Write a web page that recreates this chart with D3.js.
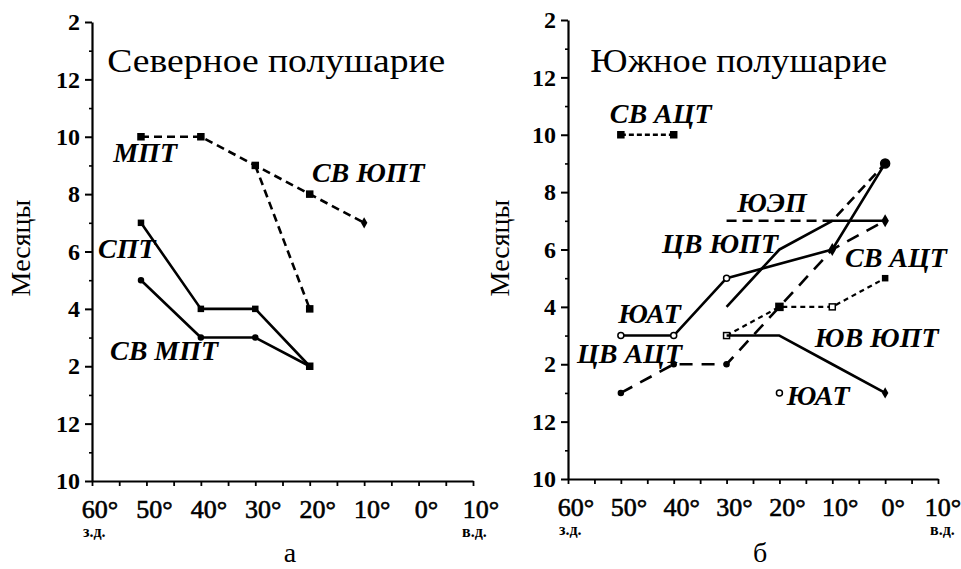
<!DOCTYPE html>
<html><head><meta charset="utf-8">
<script src="https://cdn.jsdelivr.net/npm/d3@7"></script>
</head><body style="margin:0;background:#fff">
<svg id="c" width="961" height="569"></svg>
<script>
// ---- tick data ----
const monthTicks = [10,12,14,16,18,20,22,24,26];
const monthLabels = ["10","12","2","4","6","8","10","12","2"];
const lonTicks = [-60,-50,-40,-30,-20,-10,0,10];
const lonLabels = ["60°","50°","40°","30°","20°","10°","0°","10°"];

// ---- Northern hemisphere series (lon: negative = W; month: continuous, 14 = Feb of next year) ----
const mptLon = [-51,-40,-30,-20,-10];      const mptMonth = [22,22,21,20,19];
const mptBrLon = [-30,-20];                const mptBrMonth = [21,16];
const sptLon = [-51,-40,-30,-20];          const sptMonth = [19,16,16,14];
const svmptLon = [-51,-40,-30,-20];        const svmptMonth = [17,15,15,14];

// ---- Southern hemisphere series ----
const svactTopLon = [-50,-40];             const svactTopMonth = [22,22];
const yuatLon = [-50,-40,-30,-10,0];       const yuatMonth = [15,15,17,18,21];
const cvyuptLon = [-30,-20,-10,0];         const cvyuptMonth = [16,18,19,19];
const yuepLon = [-30,-10,0];               const yuepMonth = [19,19,21];
const cvactLon = [-50,-40,-30,-10,0];      const cvactMonth = [13,14,14,18,19];
const svactLowLon = [-30,-20,-10,0];       const svactLowMonth = [15,16,16,17];
const yuvyuptLon = [-30,-20,-10,0];        const yuvyuptMonth = [15,15,14,13];
const yuatPtLon = [-20];                   const yuatPtMonth = [13];

// ---- labels ----
const northTitle = "Северное полушарие";
const southTitle = "Южное полушарие";
const northLabels = [
  {t:"МПТ", lon:-56.1, m:21.12}, {t:"СВ ЮПТ", lon:-19.6, m:20.42},
  {t:"СПТ", lon:-58.9, m:17.77}, {t:"СВ МПТ", lon:-56.7, m:14.22}];
const southLabels = [
  {t:"СВ АЦТ", lon:-52.1, m:22.41}, {t:"ЮЭП", lon:-28.0, m:19.31},
  {t:"ЦВ ЮПТ", lon:-42.2, m:17.88}, {t:"СВ АЦТ", lon:-7.6, m:17.39},
  {t:"ЮАТ", lon:-50.5, m:15.44}, {t:"ЦВ АЦТ", lon:-58.3, m:14.04},
  {t:"ЮВ ЮПТ", lon:-13.3, m:14.6}, {t:"ЮАТ", lon:-18.6, m:12.58}];

const W = 961;
const svg = d3.select("#c");
const zip = (a,b) => a.map((v,i)=>[v,b[i]]);
const F = s => s.style("font-family",'"Liberation Serif"');

function panel(o){
  const x = d3.scaleLinear().domain([-60,10]).range([o.x0,o.x1]);
  const y = d3.scaleLinear().domain([10,26]).range([o.y0,o.y1]);
  const g = svg.append("g");

  // minor y ticks
  g.append("g").attr("transform",`translate(${o.x0},0)`)
    .call(d3.axisLeft(y).tickValues(d3.range(11,26,2)).tickSize(3).tickSizeOuter(0).tickFormat(""))
    .call(s=>s.select(".domain").remove())
    .selectAll("line").attr("stroke","#000").attr("stroke-width",1.6);
  // major y axis
  const ya = g.append("g").attr("transform",`translate(${o.x0},0)`)
    .call(d3.axisLeft(y).tickValues(monthTicks).tickFormat((d,i)=>monthLabels[i]).tickSize(7).tickSizeOuter(0).tickPadding(5));
  ya.select(".domain").attr("stroke","#000").attr("stroke-width",2.2);
  ya.selectAll(".tick line").attr("stroke","#000").attr("stroke-width",2);
  F(ya.selectAll("text")).attr("font-size",24).attr("font-weight","bold").attr("fill","#000");

  // x axis
  const xa = g.append("g").attr("transform",`translate(0,${o.y0})`)
    .call(d3.axisBottom(x).tickValues(d3.range(-60,11,5)).tickSize(5).tickSizeOuter(0).tickFormat(""));
  xa.select(".domain").attr("stroke","#000").attr("stroke-width",2.2);
  xa.selectAll(".tick line").attr("stroke","#000").attr("stroke-width",1.8);
  F(g.selectAll(null).data(lonTicks).enter().append("text"))
    .attr("x",d=>Math.min(x(d)+8, W-18)).attr("y",o.y0+37).attr("text-anchor","middle")
    .attr("font-size",26).attr("stroke","#000").attr("stroke-width",0.6)
    .text((d,i)=>lonLabels[i]);
  F(g.append("text")).attr("x",x(-60)-9).attr("y",o.y0+56)
    .attr("font-size",16).attr("font-weight","bold").text("з.д.");
  F(g.append("text")).attr("x",x(10)+o.vdDx).attr("y",o.y0+56)
    .attr("font-size",16).attr("font-weight","bold").text("в.д.");

  // y title
  F(g.append("text")).attr("transform",`translate(${o.yl},248) rotate(-90)`).attr("text-anchor","middle")
    .attr("font-size",28).text("Месяцы");
  // panel title (horizontally stretched like the scanned original)
  F(g.append("text")).attr("transform",`translate(${x(o.tLon)},${y(o.tM)}) scale(${o.tSx},1)`)
    .attr("font-size",33).text(o.title);
  // caption
  F(g.append("text")).attr("x",o.capX).attr("y",562).attr("text-anchor","middle")
    .attr("font-size",28).text(o.cap);
  // labels
  F(g.selectAll(null).data(o.labels).enter().append("text"))
    .attr("x",d=>x(d.lon)).attr("y",d=>y(d.m)).attr("font-size",28)
    .attr("font-style","italic").attr("font-weight","bold").text(d=>d.t);
  return {g,x,y};
}

function series(P, pts, dash, w){
  const line = d3.line().x(d=>P.x(d[0])).y(d=>P.y(d[1]));
  P.g.append("path").attr("d",line(pts)).attr("fill","none").attr("stroke","#000")
    .attr("stroke-width",w||2.6).attr("stroke-dasharray",dash||null).attr("stroke-linejoin","round");
}
function squares(P, pts, s, fill){
  P.g.selectAll(null).data(pts).enter().append("rect")
    .attr("x",d=>P.x(d[0])-s/2).attr("y",d=>P.y(d[1])-s/2).attr("width",s).attr("height",s)
    .attr("fill",fill||"#000").attr("stroke","#000").attr("stroke-width",1.5);
}
function dots(P, pts, r, fill){
  P.g.selectAll(null).data(pts).enter().append("circle")
    .attr("cx",d=>P.x(d[0])).attr("cy",d=>P.y(d[1])).attr("r",r)
    .attr("fill",fill||"#000").attr("stroke","#000").attr("stroke-width",1.5);
}
function diamonds(P, pts, s){
  P.g.selectAll(null).data(pts).enter().append("path")
    .attr("d",d3.symbol(d3.symbolDiamond, s*s))
    .attr("transform",d=>`translate(${P.x(d[0])},${P.y(d[1])})`).attr("fill","#000");
}

// ---- Northern panel ----
const N = panel({x0:92,x1:473,y0:481,y1:22,yl:30,title:northTitle,tLon:-57.2,tM:24.26,tSx:1.14,
  cap:"а",capX:290,labels:northLabels,vdDx:-11});
const mpt = zip(mptLon,mptMonth), mptBr = zip(mptBrLon,mptBrMonth);
series(N, mpt, "8,5"); series(N, mptBr, "8,5");
squares(N, mpt.slice(0,4), 6); diamonds(N, mpt.slice(4), 6); squares(N, mptBr.slice(1), 6);
const spt = zip(sptLon,sptMonth), svmpt = zip(svmptLon,svmptMonth);
series(N, spt); series(N, svmpt);
squares(N, spt, 5); dots(N, svmpt, 2.5); squares(N, [svmpt[3]], 6);

// ---- Southern panel ----
const S = panel({x0:568,x1:938,y0:479,y1:20,yl:509,title:southTitle,tLon:-55.8,tM:24.19,tSx:1.1,
  cap:"б",capX:760,labels:southLabels,vdDx:-8});
const svTop = zip(svactTopLon,svactTopMonth);
series(S, svTop, "5,3"); squares(S, svTop, 6);
const yuep = zip(yuepLon,yuepMonth);
series(S, yuep, "10,6");
const cvact = zip(cvactLon,cvactMonth);
series(S, cvact, "13,9"); dots(S, cvact.slice(0,3), 2.5);
const svLow = zip(svactLowLon,svactLowMonth);
series(S, svLow, "5,4", 2.2);
squares(S, [svLow[0],svLow[2]], 6, "#fff"); squares(S, [svLow[1]], 7); squares(S, [svLow[3]], 5);
const yuat = zip(yuatLon,yuatMonth);
series(S, yuat); dots(S, yuat.slice(0,3), 3, "#fff"); diamonds(S, [yuat[3]], 7); dots(S, [yuat[4]], 4.5);
const cvyupt = zip(cvyuptLon,cvyuptMonth);
series(S, cvyupt); diamonds(S, [cvyupt[3]], 7);
const yuv = zip(yuvyuptLon,yuvyuptMonth);
series(S, yuv); diamonds(S, [yuv[3]], 6);
dots(S, zip(yuatPtLon,yuatPtMonth), 3, "#fff");
</script>
</body></html>
